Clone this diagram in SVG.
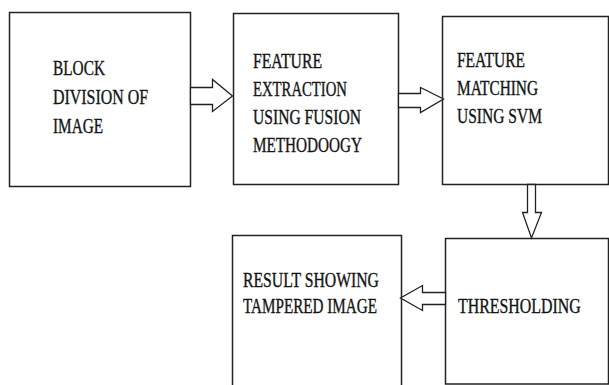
<svg xmlns="http://www.w3.org/2000/svg" width="609" height="385" viewBox="0 0 609 385">
  <style>
    .box { fill: #ffffff; stroke: #222222; stroke-width: 1.5; }
    .arrow { fill: #ffffff; stroke: #222222; stroke-width: 1.3; stroke-linejoin: miter; }
    .lbl { font-family: "Liberation Serif", "Times New Roman", serif; font-size: 20.5px; fill: #141414; stroke: #141414; stroke-width: 0.35; }
  </style>
  <rect x="0" y="0" width="609" height="385" fill="#ffffff"/>

  <g id="node-block-division">
    <rect class="box" x="9.5" y="12.5" width="181" height="174"/>
    <text class="lbl" x="53" y="75" textLength="52" lengthAdjust="spacingAndGlyphs">BLOCK</text>
    <text class="lbl" x="53" y="104" textLength="95" lengthAdjust="spacingAndGlyphs">DIVISION OF</text>
    <text class="lbl" x="53" y="133" textLength="50" lengthAdjust="spacingAndGlyphs">IMAGE</text>
  </g>

  <g id="node-feature-extraction">
    <rect class="box" x="233.5" y="13.5" width="165" height="171"/>
    <text class="lbl" x="253" y="68" textLength="69" lengthAdjust="spacingAndGlyphs">FEATURE</text>
    <text class="lbl" x="253" y="96" textLength="94" lengthAdjust="spacingAndGlyphs">EXTRACTION</text>
    <text class="lbl" x="253" y="124" textLength="108" lengthAdjust="spacingAndGlyphs">USING FUSION</text>
    <text class="lbl" x="253" y="152" textLength="109" lengthAdjust="spacingAndGlyphs">METHODOOGY</text>
  </g>

  <g id="node-feature-matching">
    <rect class="box" x="442.5" y="16.5" width="166" height="168"/>
    <text class="lbl" x="457" y="67" textLength="68" lengthAdjust="spacingAndGlyphs">FEATURE</text>
    <text class="lbl" x="457" y="95" textLength="81" lengthAdjust="spacingAndGlyphs">MATCHING</text>
    <text class="lbl" x="457" y="123" textLength="85" lengthAdjust="spacingAndGlyphs">USING SVM</text>
  </g>

  <g id="node-thresholding">
    <rect class="box" x="445.5" y="238.5" width="163" height="145.5"/>
    <!-- condensed by a horizontal scale so the run stays inside the page -->
    <text class="lbl" transform="translate(458 313) scale(0.787 1)" x="0" y="0" textLength="156" lengthAdjust="spacingAndGlyphs">THRESHOLDING</text>
  </g>

  <g id="node-result">
    <rect class="box" x="232.5" y="235.5" width="169" height="160"/>
    <text class="lbl" x="243" y="287" textLength="136" lengthAdjust="spacingAndGlyphs">RESULT SHOWING</text>
    <text class="lbl" x="243" y="313" textLength="134" lengthAdjust="spacingAndGlyphs">TAMPERED IMAGE</text>
  </g>

  <g id="connectors">
    <!-- block division -> feature extraction -->
    <polygon class="arrow" points="190.5,87.5 212.5,87.5 212.5,79.5 232.5,96 212.5,111.5 212.5,104.5 190.5,104.5"/>
    <!-- feature extraction -> feature matching -->
    <polygon class="arrow" points="398.5,93.5 420.5,93.5 420.5,87.5 443.5,99 420.5,112.5 420.5,107.5 398.5,107.5"/>
    <!-- feature matching -> thresholding -->
    <polygon class="arrow" points="527.5,184.5 535.5,184.5 535.5,212.5 541.5,212.5 531.5,238 522.5,212.5 527.5,212.5"/>
    <!-- thresholding -> result -->
    <polygon class="arrow" points="445.5,292.5 422.5,292.5 422.5,285.5 400.5,298 422.5,310.5 422.5,304.5 445.5,304.5"/>
  </g>
</svg>
